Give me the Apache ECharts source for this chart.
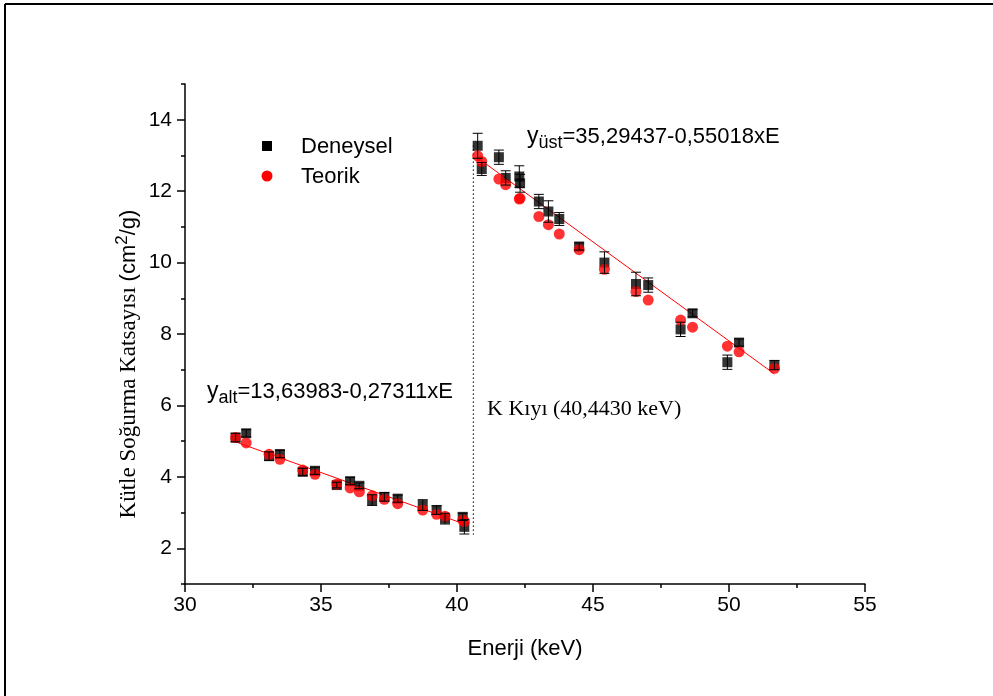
<!DOCTYPE html>
<html><head><meta charset="utf-8">
<script src="https://cdn.jsdelivr.net/npm/echarts@6/dist/echarts.min.js"></script>
<style>html,body{margin:0;padding:0;background:#fff}#c{width:993px;height:696px}</style>
</head><body><div id="c"></div>
<script>
// ---- data ----
var lowE    = [31.86,32.25,33.09,33.49,34.33,34.78,35.58,36.07,36.41,36.88,37.33,37.82,38.74,39.25,39.56,40.21,40.27];
var lowExp  = [5.10,5.22,4.58,4.64,4.14,4.17,3.77,3.88,3.75,3.35,3.44,3.39,3.21,3.07,2.83,2.88,2.60];
var lowErr  = [0.12,0.10,0.12,0.10,0.10,0.10,0.08,0.10,0.08,0.15,0.12,0.10,0.15,0.12,0.15,0.10,0.20];
var lowTheo = [5.10,4.95,4.63,4.49,4.19,4.07,3.80,3.69,3.58,3.47,3.37,3.25,3.07,2.95,2.90,2.79,2.75];

var highE    = [40.76,40.91,41.54,41.79,42.29,42.32,43.01,43.36,43.76,44.49,45.42,46.58,47.03,48.22,48.66,49.94,50.37,51.67];
var highExp  = [13.27,12.62,12.95,12.37,12.41,12.22,11.71,11.43,11.22,10.45,10.00,9.40,9.37,8.13,8.58,7.21,7.76,7.13];
var highErr  = [0.35,0.18,0.20,0.20,0.30,0.25,0.20,0.30,0.18,0.10,0.30,0.33,0.20,0.20,0.10,0.20,0.10,0.13];
var highTheo = [12.99,12.83,12.34,12.18,11.78,11.80,11.29,11.06,10.80,10.36,9.81,9.19,8.95,8.39,8.19,7.66,7.50,7.04];

var fitLowE  = [31.86, 40.27];
var fitLowY  = [4.98, 2.68];
var fitHighE = [40.76, 51.67];
var fitHighY = [12.93, 6.88];

var edgeE = [40.6, 40.6];
var edgeY = [13.28, 2.38];

var yMajor = [2,4,6,8,10,12,14];
var yMinor = [1,3,5,7,9,11,13,15];

// ---- build ----
function pairs(a,b){return a.map(function(v,i){return [v,b[i]];});}
var E = lowE.concat(highE), EXP = lowExp.concat(highExp), ERR = lowErr.concat(highErr), TH = lowTheo.concat(highTheo);
var expData = pairs(E, EXP);
var thData = pairs(E, TH);
var errData = E.map(function(v,i){return [v, EXP[i]-ERR[i], EXP[i]+ERR[i]];});

var sans = '"Liberation Sans", Arial, sans-serif';
var serif = '"Liberation Serif", "Times New Roman", serif';

var chart = echarts.init(document.getElementById('c'), null, {renderer:'canvas'});
chart.setOption({
  animation:false,
  backgroundColor:'#fff',
  grid:{left:185, right:128, top:84, bottom:112},
  xAxis:{type:'value', min:30, max:55, interval:5,
    axisLine:{lineStyle:{color:'#000', width:1.5}},
    axisTick:{length:8, lineStyle:{color:'#000', width:1.5}},
    minorTick:{show:true, splitNumber:2, length:4, lineStyle:{color:'#000', width:1.5}},
    splitLine:{show:false},
    axisLabel:{color:'#000', fontSize:21, fontFamily:sans, margin:11},
    name:'Enerji (keV)', nameLocation:'middle', nameGap:54,
    nameTextStyle:{color:'#000', fontSize:22, fontFamily:sans}
  },
  yAxis:[
    {type:'value', min:1, max:15, interval:1,
     axisLine:{onZero:false, lineStyle:{color:'#000', width:1.5}},
     axisTick:{length:8, customValues:yMajor, lineStyle:{color:'#000', width:1.5}},
     axisLabel:{customValues:yMajor, color:'#000', fontSize:21, fontFamily:sans, margin:13},
     splitLine:{show:false}},
    {type:'value', min:1, max:15, interval:1, position:'left',
     axisLine:{show:false},
     axisTick:{length:4, customValues:yMinor, lineStyle:{color:'#000', width:1.5}},
     axisLabel:{show:false},
     splitLine:{show:false}}
  ],
  series:[
    {type:'line', data:pairs(edgeE, edgeY), symbol:'none', silent:true,
     lineStyle:{color:'#000', width:1, type:[1.5,2.5]}, z:1},
    {type:'line', data:pairs(fitLowE, fitLowY), symbol:'none', lineStyle:{color:'#ff0000', width:1}, z:2},
    {type:'line', data:pairs(fitHighE, fitHighY), symbol:'none', lineStyle:{color:'#ff0000', width:1}, z:2},
    {name:'Deneysel', type:'scatter', data:expData, symbol:'rect', symbolSize:10,
     itemStyle:{color:'#000'}, z:3},
    {name:'Teorik', type:'scatter', data:thData, symbol:'circle', symbolSize:11,
     itemStyle:{color:'#ff0000'}, z:4},
    {type:'custom', data:errData, z:5,
     renderItem:function(params, api){
       var x = api.value(0);
       var lo = api.coord([x, api.value(1)]);
       var hi = api.coord([x, api.value(2)]);
       var w = 5;
       var st = {stroke:'#000', lineWidth:1};
       return {type:'group', children:[
         {type:'line', shape:{x1:lo[0],y1:lo[1],x2:hi[0],y2:hi[1]}, style:st},
         {type:'line', shape:{x1:lo[0]-w,y1:lo[1],x2:lo[0]+w,y2:lo[1]}, style:st},
         {type:'line', shape:{x1:hi[0]-w,y1:hi[1],x2:hi[0]+w,y2:hi[1]}, style:st}
       ]};
     }}
  ],
  graphic:[
    // outer frame (top and left)
    {type:'line', shape:{x1:5,y1:4,x2:993,y2:4}, style:{stroke:'#000', lineWidth:2}},
    {type:'line', shape:{x1:5,y1:4,x2:5,y2:696}, style:{stroke:'#000', lineWidth:2}},
    // legend
    {type:'rect', shape:{x:262,y:141,width:10,height:10}, style:{fill:'#000'}},
    {type:'text', x:301, y:147, style:{text:'Deneysel', font:'22px '+sans, fill:'#000', textVerticalAlign:'middle'}},
    {type:'circle', shape:{cx:267,cy:176,r:5.5}, style:{fill:'#ff0000'}},
    {type:'text', x:301, y:177, style:{text:'Teorik', font:'22px '+sans, fill:'#000', textVerticalAlign:'middle'}},
    // fit equations
    {type:'text', x:207, y:392, style:{
      text:'{y|y}{s|alt}{t|=13,63983-0,27311xE}', fill:'#000', textVerticalAlign:'middle',
      rich:{y:{fontSize:23, fontFamily:sans, fill:'#000', lineHeight:26},
            s:{fontSize:18, fontFamily:sans, fill:'#000', padding:[12,0,0,0], lineHeight:26},
            t:{fontSize:22, fontFamily:sans, fill:'#000', lineHeight:26}}}},
    {type:'text', x:527, y:137, style:{
      text:'{y|y}{s|üst}{t|=35,29437-0,55018xE}', fill:'#000', textVerticalAlign:'middle',
      rich:{y:{fontSize:23, fontFamily:sans, fill:'#000', lineHeight:26},
            s:{fontSize:18, fontFamily:sans, fill:'#000', padding:[12,0,0,0], lineHeight:26},
            t:{fontSize:22, fontFamily:sans, fill:'#000', lineHeight:26}}}},
    {type:'text', x:487, y:409, style:{text:'K Kıyı (40,4430 keV)', font:'22px '+serif, fill:'#000', textVerticalAlign:'middle'}},
    // y-axis title
    {type:'text', x:129, y:364, rotation:Math.PI/2, style:{
      text:'{a|Kütle Soğurma Katsayısı }{b|(cm}{p|2}{b|/g)}', textAlign:'center', textVerticalAlign:'middle',
      rich:{a:{fontSize:23, fontFamily:serif, fill:'#000'},
            b:{fontSize:22, fontFamily:sans, fill:'#000'},
            p:{fontSize:17, fontFamily:sans, fill:'#000', padding:[0,0,14,0]}}}}
  ]
});
</script>
</body></html>
